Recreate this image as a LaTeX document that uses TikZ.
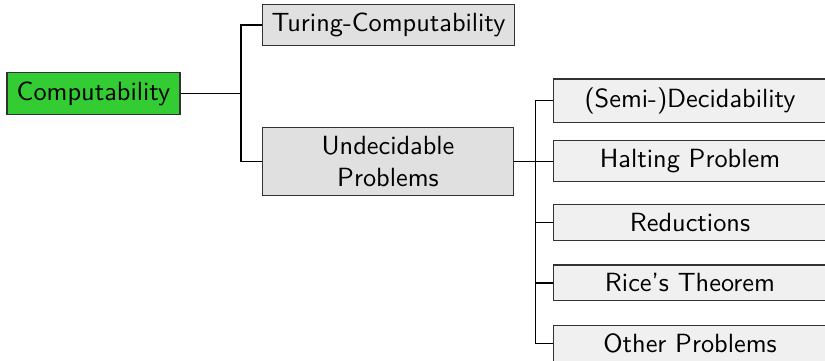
\documentclass[tikz,border=0pt]{standalone}
\definecolor{rootgreen}{RGB}{51,204,51}
\definecolor{midgray}{RGB}{224,224,224}
\definecolor{leafgray}{RGB}{240,240,240}
\definecolor{bordergray}{RGB}{50,50,50}
\begin{document}
\begin{tikzpicture}[x=0.38pt,y=-0.38pt,
  box/.style={draw=bordergray,line width=0.45pt,inner sep=3.3pt,align=center,font=\sffamily},
  rootbox/.style={box,fill=rootgreen,minimum width=65.7pt},
  midbox/.style={box,fill=midgray,text width=89pt},
  leafbox/.style={box,fill=leafgray,text width=97pt},
  conn/.style={draw=black,line width=0.5pt}]
\useasboundingbox (0,0) rectangle (825,360);
\node[rootbox] (root) at (93.5,93.5) {Computability};
\node[midbox] (tc) at (388.5,25) {Turing-Computability};
\node[midbox] (up) at (388,161.5) {Undecidable\\Problems};
\node[leafbox] (l1) at (690,100.8) {(Semi-)Decidability};
\node[leafbox] (l2) at (690,161.3) {Halting Problem};
\node[leafbox] (l3) at (690,222.2) {Reductions};
\node[leafbox] (l4) at (690,282.9) {Rice's Theorem};
\node[leafbox] (l5) at (690,343.5) {Other Problems};
\coordinate (t1) at (241,93.5);
\coordinate (t2) at (535.5,161.5);
\foreach \c in {tc,up}{\draw[conn] (root.east) -- (t1) |- (\c.west);}
\foreach \c in {l1,l2,l3,l4,l5}{\draw[conn] (up.east) -- (t2) |- (\c.west);}
\end{tikzpicture}
\end{document}
